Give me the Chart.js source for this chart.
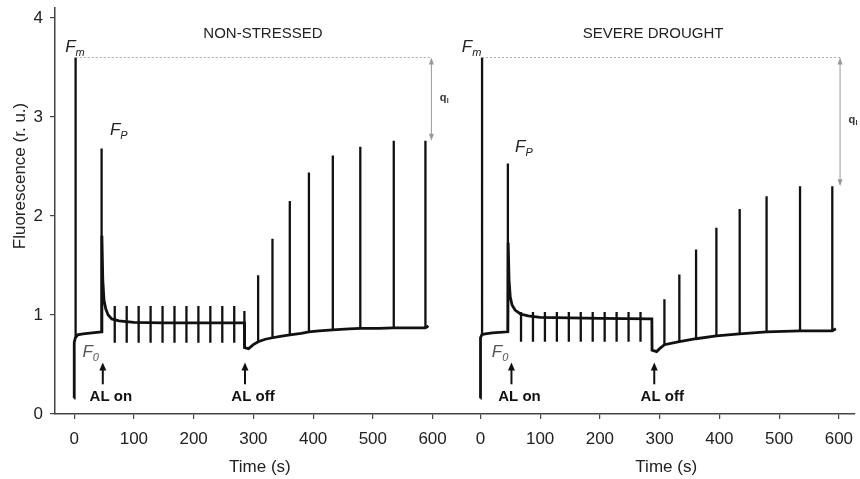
<!DOCTYPE html>
<html>
<head>
<meta charset="utf-8">
<script src="https://cdn.jsdelivr.net/npm/chart.js@4.4.1/dist/chart.umd.min.js"></script>
<style>
html, body { margin: 0; padding: 0; background: #fff; }
#wrap { width: 860px; height: 479px; position: relative; }
</style>
</head>
<body>
<div id="wrap"><canvas id="myChart"></canvas></div>
<script>
// time offset used to put the second panel to the right of the first one
const panelGap = 680;

// NON-STRESSED: slow fluorescence trace (no pulses)
const nsTime = [0, 0.2, 2, 6, 15, 30, 46, 46.5, 48, 50, 53, 57, 63, 75, 100, 150, 200, 285, 285.3, 292, 300, 308, 320, 332, 345, 361, 380, 393, 410, 433, 460, 479, 510, 535, 560, 588, 593];
const nsFluo = [0.16, 0.72, 0.77, 0.80, 0.81, 0.82, 0.83, 1.80, 1.35, 1.15, 1.06, 1.00, 0.96, 0.94, 0.925, 0.92, 0.92, 0.92, 0.67, 0.66, 0.70, 0.73, 0.755, 0.77, 0.785, 0.80, 0.815, 0.83, 0.84, 0.85, 0.86, 0.865, 0.865, 0.87, 0.87, 0.87, 0.89];
// NON-STRESSED: saturating pulses (time, top, bottom)
const nsPulseTime = [2.5, 46, 68, 88, 108, 128, 148, 168, 188, 208, 228, 248, 268, 285, 308, 332, 361, 393, 433, 479, 535, 588];
const nsPulseTop  = [3.60, 2.68, 1.09, 1.09, 1.09, 1.09, 1.09, 1.09, 1.09, 1.09, 1.09, 1.09, 1.09, 1.04, 1.40, 1.77, 2.15, 2.44, 2.61, 2.70, 2.76, 2.76];
const nsPulseLow  = [0.77, 0.83, 0.72, 0.72, 0.72, 0.72, 0.72, 0.72, 0.72, 0.72, 0.72, 0.72, 0.72, 0.67, 0.73, 0.77, 0.80, 0.83, 0.85, 0.865, 0.87, 0.87];

// SEVERE DROUGHT: slow fluorescence trace
const sdTime = [0, 0.2, 2.5, 8, 20, 46, 46.5, 48, 50, 53, 58, 67, 80, 100, 150, 200, 287, 287.3, 295, 300, 308, 333, 361, 395, 434, 479, 535, 589, 595];
const sdFluo = [0.16, 0.77, 0.80, 0.81, 0.82, 0.83, 1.73, 1.35, 1.18, 1.10, 1.05, 1.01, 0.99, 0.975, 0.97, 0.965, 0.96, 0.645, 0.63, 0.66, 0.70, 0.73, 0.76, 0.79, 0.81, 0.83, 0.84, 0.84, 0.86];
// SEVERE DROUGHT: saturating pulses
const sdPulseTime = [2.8, 46, 68, 88, 108, 128, 148, 168, 188, 208, 228, 248, 268, 308, 333, 361, 395, 434, 479, 535, 589];
const sdPulseTop  = [3.60, 2.53, 1.03, 1.03, 1.03, 1.03, 1.03, 1.03, 1.03, 1.03, 1.03, 1.03, 1.03, 1.16, 1.41, 1.66, 1.88, 2.07, 2.20, 2.30, 2.30];
const sdPulseLow  = [0.80, 0.83, 0.73, 0.73, 0.73, 0.73, 0.73, 0.73, 0.73, 0.73, 0.73, 0.73, 0.73, 0.70, 0.73, 0.76, 0.79, 0.81, 0.83, 0.84, 0.84];

const xTickValues = [0, 100, 200, 300, 400, 500, 600];
const yTickValues = [0, 1, 2, 3, 4];

const panelTitles = ["NON-STRESSED", "SEVERE DROUGHT"];
const FONT = "'Liberation Sans', Arial, sans-serif";

function trace(times, values, offset) {
  return times.map((t, i) => ({ x: t + offset, y: values[i] }));
}
function pulses(times, tops, lows, offset) {
  const pts = [];
  times.forEach((t, i) => {
    pts.push({ x: t + offset, y: lows[i] });
    pts.push({ x: t + offset, y: tops[i] });
    pts.push({ x: t + offset, y: null });
  });
  return pts;
}

function lineSet(data, width) {
  return {
    data: data,
    showLine: true,
    borderColor: '#111',
    borderWidth: width,
    pointRadius: 0,
    tension: 0,
    spanGaps: false
  };
}

// text, arrows and the q bars
const annotations = {
  id: 'annotations',
  afterDatasetsDraw(chart) {
    const ctx = chart.ctx;
    const xs = chart.scales.x, ys = chart.scales.y;
    const px = (t, p) => xs.getPixelForValue(t + p * panelGap);
    const py = v => ys.getPixelForValue(v);

    function subLabel(main, sub, x, y, color) {
      ctx.save();
      ctx.fillStyle = color || '#222';
      ctx.textAlign = 'left';
      ctx.textBaseline = 'alphabetic';
      ctx.font = 'italic 17px ' + FONT;
      ctx.fillText(main, x, y);
      const w = ctx.measureText(main).width;
      ctx.font = 'italic 11px ' + FONT;
      ctx.fillText(sub, x + w, y + 4);
      ctx.restore();
    }
    function upArrow(x, y1, y2) {
      ctx.save();
      ctx.strokeStyle = '#111';
      ctx.fillStyle = '#111';
      ctx.lineWidth = 2;
      ctx.beginPath();
      ctx.moveTo(x, y1);
      ctx.lineTo(x, y2 + 5);
      ctx.stroke();
      ctx.beginPath();
      ctx.moveTo(x, y2);
      ctx.lineTo(x - 3.5, y2 + 8);
      ctx.lineTo(x + 3.5, y2 + 8);
      ctx.closePath();
      ctx.fill();
      ctx.restore();
    }
    function qBar(x0, x1, yTop, yBot, qx, qy) {
      ctx.save();
      ctx.strokeStyle = '#aaa';
      ctx.lineWidth = 1;
      ctx.setLineDash([2, 2]);
      ctx.beginPath();
      ctx.moveTo(x0, yTop);
      ctx.lineTo(x1, yTop);
      ctx.stroke();
      ctx.setLineDash([]);
      ctx.strokeStyle = '#999';
      ctx.fillStyle = '#999';
      ctx.beginPath();
      ctx.moveTo(x1, yTop + 3);
      ctx.lineTo(x1, yBot - 3);
      ctx.stroke();
      ctx.beginPath();
      ctx.moveTo(x1, yTop); ctx.lineTo(x1 - 2.5, yTop + 7); ctx.lineTo(x1 + 2.5, yTop + 7); ctx.closePath();
      ctx.fill();
      ctx.beginPath();
      ctx.moveTo(x1, yBot); ctx.lineTo(x1 - 2.5, yBot - 7); ctx.lineTo(x1 + 2.5, yBot - 7); ctx.closePath();
      ctx.fill();
      ctx.fillStyle = '#333';
      ctx.font = 'bold 11px ' + FONT;
      ctx.textAlign = 'left';
      ctx.textBaseline = 'middle';
      ctx.fillText('q', qx, qy);
      ctx.font = 'bold 7px ' + FONT;
      ctx.fillText('I', qx + 7, qy + 3);
      ctx.restore();
    }

    // q bars from Fm to the last pulse
    qBar(px(nsPulseTime[0], 0), px(598, 0), py(nsPulseTop[0]), py(nsPulseTop[nsPulseTop.length - 1]), px(612, 0), py(3.19));
    qBar(px(sdPulseTime[0], 1), px(602, 1), py(sdPulseTop[0]), py(sdPulseTop[sdPulseTop.length - 1]), px(616, 1), py(2.97));

    for (let p = 0; p < 2; p++) {
      ctx.save();
      ctx.fillStyle = '#222';
      ctx.font = '15px ' + FONT;
      ctx.textAlign = 'center';
      ctx.textBaseline = 'middle';
      ctx.fillText(panelTitles[p], px(p === 0 ? 316 : 289, p), py(3.84));
      ctx.font = '17px ' + FONT;
      ctx.fillText('Time (s)', px(311, p), 467);
      ctx.restore();

      subLabel('F', 'm', px(p === 0 ? -15 : -31, p), py(3.66));
      subLabel('F', 'P', px(p === 0 ? 60 : 58, p), py(p === 0 ? 2.82 : 2.65));
      subLabel('F', '0', px(p === 0 ? 14 : 19, p), py(0.58), '#555');

      const onX = px(p === 0 ? 48 : 52, p);
      const offX = px(p === 0 ? 286 : 291, p);
      upArrow(onX, py(0.30), py(0.52));
      upArrow(offX, py(0.30), py(0.52));
      ctx.save();
      ctx.fillStyle = '#111';
      ctx.font = 'bold 15px ' + FONT;
      ctx.textAlign = 'center';
      ctx.textBaseline = 'middle';
      ctx.fillText('AL on', onX + 8, py(0.17));
      ctx.fillText('AL off', offX + 8, py(0.17));
      ctx.restore();
    }

    // y axis title
    ctx.save();
    ctx.translate(20, 176);
    ctx.rotate(-Math.PI / 2);
    ctx.fillStyle = '#222';
    ctx.font = '17px ' + FONT;
    ctx.textAlign = 'center';
    ctx.textBaseline = 'middle';
    ctx.fillText('Fluorescence (r. u.)', 0, 0);
    ctx.restore();
  }
};

new Chart(document.getElementById('myChart'), {
  type: 'scatter',
  data: {
    datasets: [
      lineSet(trace(nsTime, nsFluo, 0), 2.8),
      lineSet(pulses(nsPulseTime, nsPulseTop, nsPulseLow, 0), 2.3),
      lineSet(trace(sdTime, sdFluo, panelGap), 2.8),
      lineSet(pulses(sdPulseTime, sdPulseTop, sdPulseLow, panelGap), 2.3)
    ]
  },
  options: {
    responsive: true,
    maintainAspectRatio: false,
    animation: false,
    layout: { padding: { top: 8, right: 5, left: 0, bottom: 0 } },
    plugins: { legend: { display: false }, tooltip: { enabled: false } },
    scales: {
      x: {
        type: 'linear',
        min: -32,
        max: 1307,
        border: { color: '#444', width: 1.5 },
        grid: { drawOnChartArea: false, drawTicks: true, tickLength: 5, color: '#444', lineWidth: 1.2 },
        ticks: {
          color: '#222',
          font: { family: FONT, size: 17 },
          padding: 10,
          maxRotation: 0,
          callback: v => (v >= panelGap - 50 ? v - panelGap : v)
        },
        afterBuildTicks: s => {
          s.ticks = xTickValues.map(v => ({ value: v }))
            .concat(xTickValues.map(v => ({ value: v + panelGap })));
        },
        afterFit: s => { s.height = 65; s.paddingLeft = 0; s.paddingRight = 0; }
      },
      y: {
        min: 0,
        max: 4.1,
        border: { color: '#444', width: 1.5 },
        grid: { drawOnChartArea: false, drawTicks: true, tickLength: 5, color: '#444', lineWidth: 1.2 },
        ticks: {
          color: '#222',
          font: { family: FONT, size: 17 },
          padding: 7
        },
        afterBuildTicks: s => { s.ticks = yTickValues.map(v => ({ value: v })); },
        afterFit: s => { s.width = 55; s.paddingTop = 0; s.paddingBottom = 0; }
      }
    }
  },
  plugins: [annotations]
});
</script>
</body>
</html>
